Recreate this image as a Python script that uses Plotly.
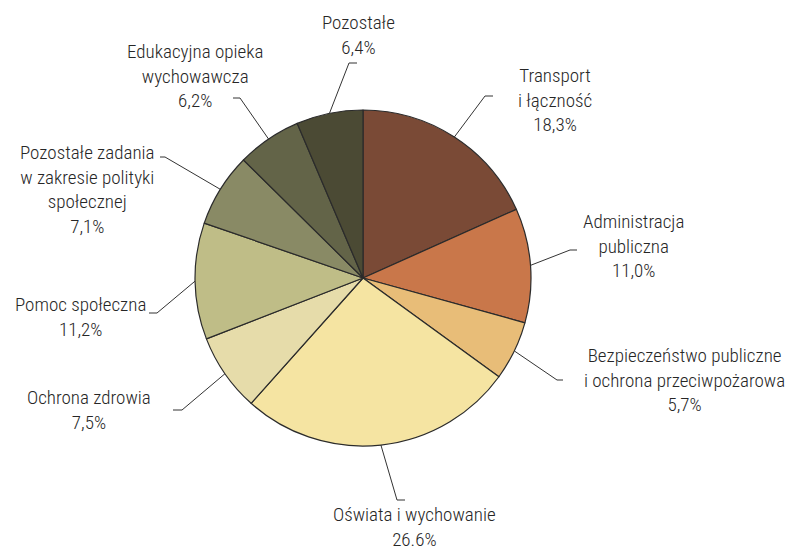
import math
import plotly.graph_objects as go

# ---- data ----
categories = [
    "Transport<br>i łączność",
    "Administracja<br>publiczna",
    "Bezpieczeństwo publiczne<br>i ochrona przeciwpożarowa",
    "Oświata i wychowanie",
    "Ochrona zdrowia",
    "Pomoc społeczna",
    "Pozostałe zadania<br>w zakresie polityki<br>społecznej",
    "Edukacyjna opieka<br>wychowawcza",
    "Pozostałe",
]
values = [18.3, 11.0, 5.7, 26.6, 7.5, 11.2, 7.1, 6.2, 6.4]
value_labels = ["18,3%", "11,0%", "5,7%", "26.6%", "7,5%", "11,2%", "7,1%", "6,2%", "6,4%"]
colors = ["#7a4a36", "#c9774a", "#e8bd78", "#f5e4a2", "#e6dcaa",
          "#bfbd87", "#898a65", "#636448", "#4b4a34"]

# ---- layout constants (pixels) ----
W, H = 792, 552
CX, CY, R = 363, 278, 168
# label text centre (x, y) and leader elbow/end points
label_pos = [(555, 100), (633, 246), (684, 380), (414, 527), (89, 410),
             (80, 317), (87, 189), (195, 76), (358, 35)]
elbows = [((485, 96), (493, 96)), ((570, 250), (577, 250)), ((557, 380), (563, 380)),
          ((397, 500), (405, 500)), ((182, 410), (173, 410)), ((157, 313), (149, 313)),
          ((165, 157), (160, 157)), ((240, 98), (233, 98)), ((349, 63), (357, 63))]

FONT = "Roboto Condensed, Roboto, sans-serif"

fig = go.Figure()
fig.add_trace(go.Pie(
    values=values, labels=[c.replace("<br>", " ") for c in categories],
    sort=False, direction="clockwise", rotation=0,
    marker=dict(colors=colors, line=dict(color="#2b2b2b", width=1.2)),
    textinfo="none", hoverinfo="label+percent", showlegend=False,
    domain=dict(x=[(CX - R) / W, (CX + R) / W], y=[(H - CY - R) / H, (H - CY + R) / H]),
))

total = sum(values)
cum = 0.0
for i, v in enumerate(values):
    mid = (cum + v / 2) / total * 2 * math.pi
    cum += v
    sx = CX + R * math.sin(mid)
    sy = CY - R * math.cos(mid)
    (ex, ey), (tx, ty) = elbows[i]
    fig.add_trace(go.Scatter(
        x=[sx, ex, tx], y=[sy, ey, ty], mode="lines",
        line=dict(color="#333333", width=1), hoverinfo="skip", showlegend=False,
        xaxis="x", yaxis="y"))
    lx, ly = label_pos[i]
    fig.add_annotation(
        x=lx, y=ly, xref="x", yref="y", showarrow=False,
        text=categories[i] + "<br>" + value_labels[i],
        xanchor="center", yanchor="middle", align="center",
        font=dict(family=FONT, size=19, color="#262626", weight=300))

fig.update_layout(
    width=W, height=H, margin=dict(l=0, r=0, t=0, b=0),
    paper_bgcolor="white", plot_bgcolor="rgba(0,0,0,0)",
    xaxis=dict(range=[0, W], visible=False, domain=[0, 1], fixedrange=True),
    yaxis=dict(range=[H, 0], visible=False, domain=[0, 1], fixedrange=True),
    showlegend=False,
)
fig.write_html("out.html", config={"displayModeBar": False},
               post_script="document.body.style.margin='0';document.body.style.overflow='hidden';")
